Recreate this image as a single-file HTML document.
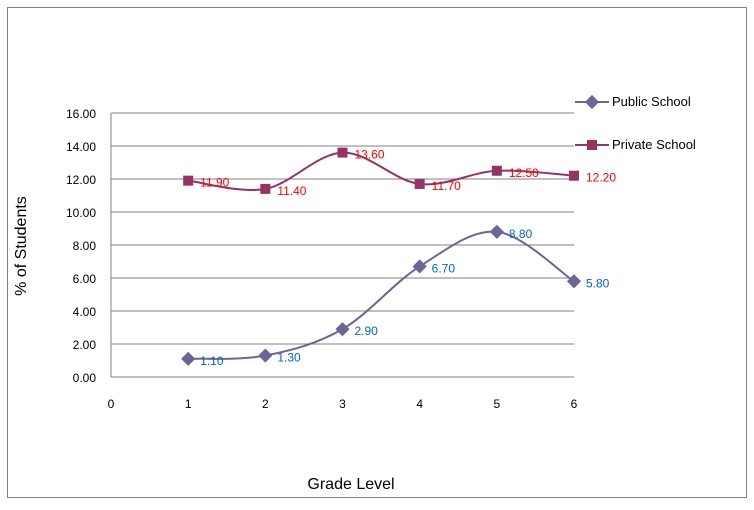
<!DOCTYPE html>
<html><head><meta charset="utf-8"><style>
body{margin:0;background:#fff;}
svg text{font-family:"Liberation Sans",sans-serif;}
</style></head><body>
<svg id="chart" width="754" height="505" xmlns="http://www.w3.org/2000/svg">
<rect x="7.5" y="7.5" width="739" height="490" fill="#fff" stroke="#808080"/>
<g id="grid"></g><g id="series"></g><g id="labels"></g>
<text transform="translate(26,246) rotate(-90)" text-anchor="middle" font-size="16">% of Students</text>
<text x="351" y="489" text-anchor="middle" font-size="16">Grade Level</text>
<g>
<line x1="575" y1="102" x2="609" y2="102" stroke="#6b6598" stroke-width="2"/>
<rect x="587" y="97" width="10" height="10" fill="#6b6598" transform="rotate(45 592 102)"/>
<text x="612" y="106" font-size="13">Public School</text>
<line x1="575" y1="145" x2="609" y2="145" stroke="#953363" stroke-width="2"/>
<rect x="587" y="140" width="10" height="10" fill="#953363"/>
<text x="612" y="149" font-size="13">Private School</text>
</g>
</svg>
<script>
const grades=[1,2,3,4,5,6];
const publicVals=[1.10,1.30,2.90,6.70,8.80,5.80];
const privateVals=[11.90,11.40,13.60,11.70,12.50,12.20];
const yTicks=[0,2,4,6,8,10,12,14,16];
const xTicks=[0,1,2,3,4,5,6];
const X0=111,X1=574,Y0=377,Y1=113;
const sx=v=>X0+(X1-X0)*v/6, sy=v=>Y0-(Y0-Y1)*v/16;
const NS="http://www.w3.org/2000/svg";
function mk(tag,attrs,parent,txt){const e=document.createElementNS(NS,tag);for(const k in attrs)e.setAttribute(k,attrs[k]);if(txt!==undefined)e.textContent=txt;parent.appendChild(e);return e;}
const grid=document.getElementById('grid'),ser=document.getElementById('series'),lab=document.getElementById('labels');
yTicks.forEach(t=>{
 const l=mk('line',{x1:X0,x2:X1,y1:sy(t),y2:sy(t),stroke:'#808080','stroke-width':1},grid);
 
 
 const tx=mk('text',{x:X0-15,y:sy(t)+5,'text-anchor':'end','font-size':12},grid,t.toFixed(2));
 
 
});
const ax=mk('line',{x1:X0,x2:X0,y1:Y1,y2:Y0,stroke:'#808080'},grid);


xTicks.forEach(t=>{
 const tx=mk('text',{x:sx(t),y:Y0+31,'text-anchor':'middle','font-size':12},grid,t);
 
 
});
function smooth(pts){let d='M'+pts[0][0]+','+pts[0][1];
 for(let i=0;i<pts.length-1;i++){const p0=pts[i-1]||pts[i],p1=pts[i],p2=pts[i+1],p3=pts[i+2]||p2;
 const c1=[p1[0]+(p2[0]-p0[0])/6,p1[1]+(p2[1]-p0[1])/6],c2=[p2[0]-(p3[0]-p1[0])/6,p2[1]-(p3[1]-p1[1])/6];
 d+=' C'+c1+' '+c2+' '+p2;}return d;}
function draw(vals,color,lblColor,name,diamond){
 const pts=grades.map((g,i)=>[sx(g),sy(vals[i])]);
 const p=mk('path',{d:smooth(pts),fill:'none',stroke:color,'stroke-width':2},ser);
 
 
 pts.forEach((pt,i)=>{
  const m=mk('rect',{x:pt[0]-5,y:pt[1]-5,width:10,height:10,fill:color},ser);
  if(diamond)m.setAttribute('transform','rotate(45 '+pt[0]+' '+pt[1]+')');
  
  
  const t=mk('text',{x:pt[0]+12,y:pt[1]+6,'font-size':12,fill:lblColor},lab,vals[i].toFixed(2));
  
  
 });
}
draw(publicVals,'#6b6598','#0066cc','public-school',true);
draw(privateVals,'#953363','#ff0000','private-school',false);
</script>
</body></html>
